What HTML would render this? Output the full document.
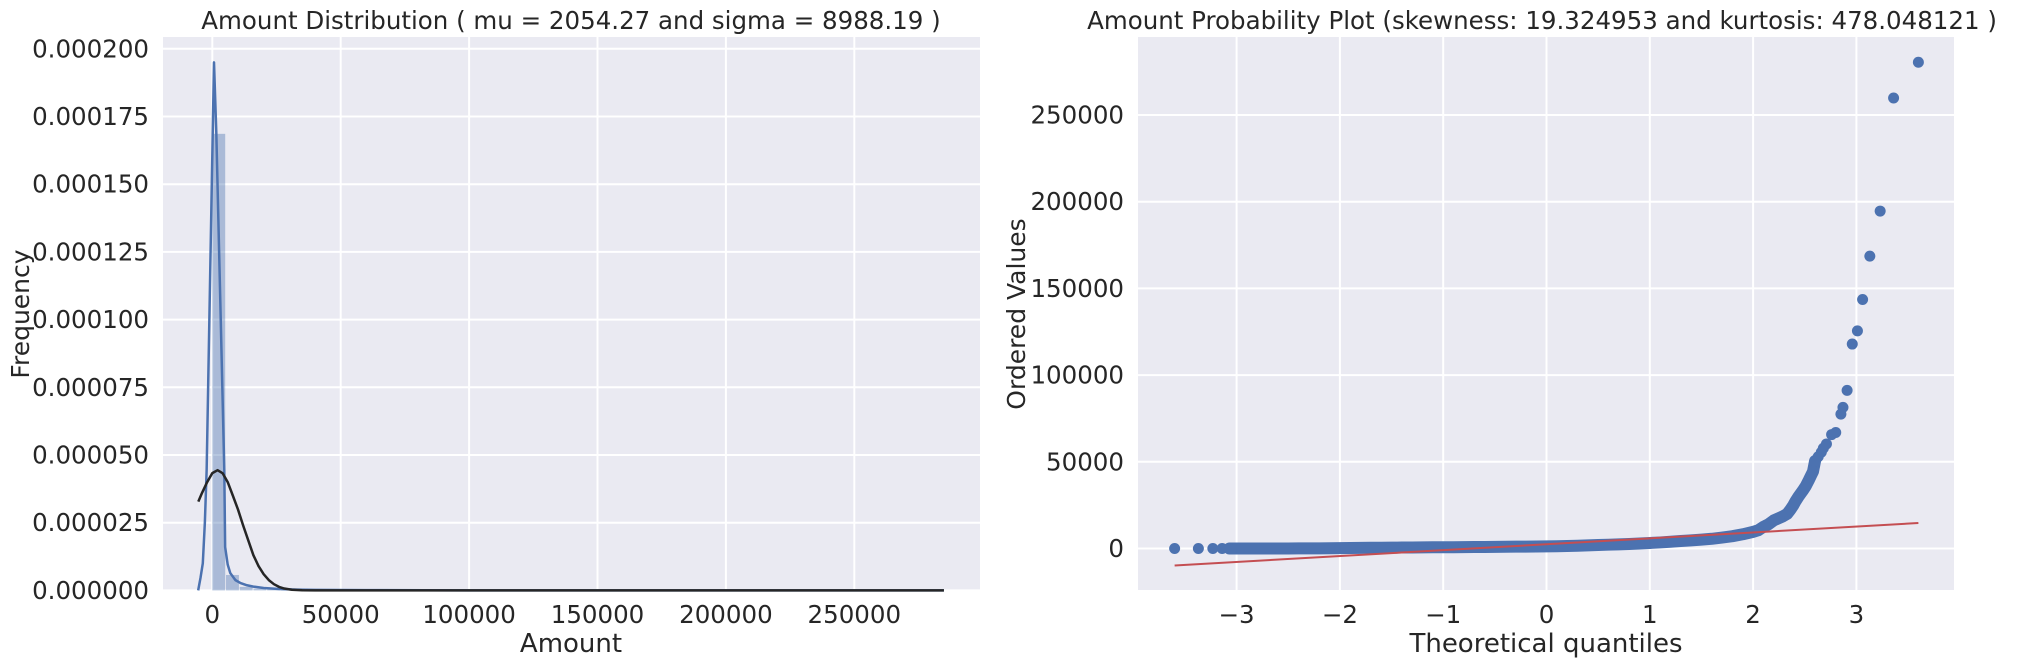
<!DOCTYPE html>
<html><head><meta charset="utf-8"><style>
html,body{margin:0;padding:0;background:#fff;}
svg text{font-family:"DejaVu Sans","Liberation Sans",sans-serif;fill:#262626;}
</style></head><body>
<svg id="fig" width="2021" height="666" viewBox="0 0 2021 666" xmlns="http://www.w3.org/2000/svg">
<g id="left"></g>
<g id="right"></g>
</svg>
<script>
// ---------- Left chart data ----------
const histBinStart = 0;
const histBinWidth = 5340;
const histDensity = [1.686e-4, 5.7e-6, 1.3e-6, 0.6e-6, 0.3e-6, 0.2e-6, 0.15e-6, 0.1e-6, 0.1e-6, 0.3e-6, 0.3e-6, 0.2e-6, 0.1e-6, 0.05e-6, 0.05e-6];
const kdeX = [-5500, -4600, -3700, -2900, -2200, 660, 1560, 4670, 5000, 6000, 7000, 9000, 11000, 13500, 16000, 20000, 26000, 33000, 40000, 60000, 100000, 284900];
const kdeY = [0, 4.6e-6, 1.0e-5, 2.5e-5, 4.45e-5, 1.95e-4, 1.69e-4, 4.45e-5, 1.6e-5, 9.5e-6, 6.4e-6, 3.8e-6, 2.7e-6, 1.9e-6, 1.4e-6, 0.9e-6, 0.5e-6, 0.3e-6, 0.2e-6, 0.1e-6, 0, 0];
const normX = [-5450, -4000, -2000, 0, 2054, 4000, 6000, 8000, 10000, 12000, 14000, 16000, 18000, 20000, 22000, 24000, 26000, 28000, 31000, 35000, 40000, 284900];
const normY = [3.28e-5, 3.6e-5, 4.0e-5, 4.33e-5, 4.44e-5, 4.33e-5, 4.0e-5, 3.5e-5, 2.99e-5, 2.4e-5, 1.85e-5, 1.3e-5, 9.0e-6, 6.0e-6, 3.8e-6, 2.3e-6, 1.3e-6, 0.7e-6, 0.25e-6, 0.05e-6, 0, 0];
const leftXTicks = [0, 50000, 100000, 150000, 200000, 250000];
const leftXTickLabels = ["0", "50000", "100000", "150000", "200000", "250000"];
const leftYTicks = [0, 0.000025, 0.00005, 0.000075, 0.0001, 0.000125, 0.00015, 0.000175, 0.0002];
const leftYTickLabels = ["0.000000", "0.000025", "0.000050", "0.000075", "0.000100", "0.000125", "0.000150", "0.000175", "0.000200"];

// ---------- Right chart data ----------
const qqX = [-3.6, -3.37, -3.23, -3.14, -3.07, -3.0, -2.9, -2.8, -2.7, -2.6, -2.5, -2.4, -2.3, -2.2, -2.1, -2.0, -1.9, -1.8, -1.7, -1.6, -1.5, -1.4, -1.3, -1.2, -1.1, -1.0, -0.9, -0.8, -0.7, -0.6, -0.5, -0.4, -0.3, -0.2, -0.1, 0, 0.1, 0.2, 0.3, 0.4, 0.5, 0.6, 0.7, 0.8, 0.9, 1.0, 1.1, 1.2, 1.3, 1.4, 1.5, 1.6, 1.7, 1.8, 1.9, 2.0, 2.05, 2.1, 2.15, 2.2, 2.25, 2.29, 2.33, 2.36, 2.39, 2.41, 2.44, 2.48, 2.51, 2.54, 2.56, 2.58, 2.60, 2.63, 2.66, 2.68, 2.71, 2.76, 2.80, 2.85, 2.87, 2.91, 2.96, 3.01, 3.06, 3.13, 3.23, 3.36, 3.6];
const qqY = [0, 0, 0, 0, 0, 0, 0, 0, 10, 20, 30, 50, 80, 100, 150, 250, 300, 350, 400, 450, 500, 550, 600, 650, 700, 700, 750, 800, 850, 900, 950, 1000, 1050, 1100, 1150, 1200, 1300, 1450, 1600, 1800, 2000, 2200, 2400, 2600, 2900, 3200, 3500, 3900, 4300, 4700, 5100, 5600, 6300, 7100, 8200, 9600, 10500, 12500, 14000, 16200, 17500, 18600, 20000, 22300, 25000, 27200, 30000, 33300, 36000, 39500, 42000, 44400, 50500, 52900, 55500, 57800, 60300, 65700, 66900, 77500, 81400, 91200, 117900, 125500, 143600, 168600, 194600, 259800, 280400];
const fitX = [-3.6, 3.6];
const fitY = [-9800, 14700];
const rightXTicks = [-3, -2, -1, 0, 1, 2, 3];
const rightXTickLabels = ["\u22123", "\u22122", "\u22121", "0", "1", "2", "3"];
const rightYTicks = [0, 50000, 100000, 150000, 200000, 250000];
const rightYTickLabels = ["0", "50000", "100000", "150000", "200000", "250000"];

const NS = "http://www.w3.org/2000/svg";
const FS = 24.5;
function mk(parent, tag, attrs, text) {
  const e = document.createElementNS(NS, tag);
  for (const k in attrs) e.setAttribute(k, attrs[k]);
  if (text !== undefined) e.textContent = text;
  parent.appendChild(e);
  return e;
}

// ---------- Left chart ----------
(function(){
  const g = document.getElementById('left');
  const L = 163, R = 980, T = 37, B = 590;
  const xs = v => 212.3 + v * (128.4 / 50000);
  const ys = v => 590.4 - v * (67.7 / 0.000025);
  const bg = mk(g, 'rect', {x:L, y:T, width:R-L, height:B-T, fill:'#eaeaf2'});
  
  
  leftYTicks.forEach((t, i) => {
    const y = ys(t);
    const gl = mk(g, 'line', {x1:L, x2:R, y1:y, y2:y, stroke:'#fff', 'stroke-width':2});
    
    
    const tl = mk(g, 'text', {x:149, y:y, 'text-anchor':'end', 'dominant-baseline':'central', 'font-size':FS}, leftYTickLabels[i]);
    
    
  });
  leftXTicks.forEach((t, i) => {
    const x = xs(t);
    const gl = mk(g, 'line', {x1:x, x2:x, y1:T, y2:B, stroke:'#fff', 'stroke-width':2});
    
    
    const tl = mk(g, 'text', {x:x, y:623, 'text-anchor':'middle', 'font-size':FS}, leftXTickLabels[i]);
    
    
  });
  histDensity.forEach((d, i) => {
    const x0 = xs(histBinStart + i * histBinWidth), x1 = xs(histBinStart + (i + 1) * histBinWidth);
    const y = ys(d);
    const r = mk(g, 'rect', {x:x0, y:y, width:Math.max(0, x1 - x0 - 0.8), height:Math.max(0, ys(0) - y), fill:'#4c72b0', 'fill-opacity':0.4});
    
    
  });
  const kp = mk(g, 'polyline', {points:kdeX.map((x, i) => xs(x) + ',' + ys(kdeY[i])).join(' '), fill:'none', stroke:'#4c72b0', 'stroke-width':2.5, 'stroke-linejoin':'round'});
  
  
  const np = mk(g, 'polyline', {points:normX.map((x, i) => xs(x) + ',' + ys(normY[i])).join(' '), fill:'none', stroke:'#262626', 'stroke-width':2.5, 'stroke-linejoin':'round'});
  
  
  const tt = mk(g, 'text', {x:571, y:29, 'text-anchor':'middle', 'font-size':FS}, 'Amount Distribution ( mu = 2054.27 and sigma = 8988.19 )');
  
  
  const xl = mk(g, 'text', {x:571, y:652, 'text-anchor':'middle', 'font-size':26}, 'Amount');
  
  
  const yl = mk(g, 'text', {x:0, y:0, 'text-anchor':'middle', 'font-size':25, transform:'translate(29,314) rotate(-90)'}, 'Frequency');
  
  
})();

// ---------- Right chart ----------
(function(){
  const g = document.getElementById('right');
  const L = 1138, R = 1954, T = 37, B = 590;
  const xs = v => 1546.5 + v * 103.3;
  const ys = v => 548.5 - v * (86.7 / 50000);
  const bg = mk(g, 'rect', {x:L, y:T, width:R-L, height:B-T, fill:'#eaeaf2'});
  
  
  rightYTicks.forEach((t, i) => {
    const y = ys(t);
    const gl = mk(g, 'line', {x1:L, x2:R, y1:y, y2:y, stroke:'#fff', 'stroke-width':2});
    
    
    const tl = mk(g, 'text', {x:1124, y:y, 'text-anchor':'end', 'dominant-baseline':'central', 'font-size':FS}, rightYTickLabels[i]);
    
    
  });
  rightXTicks.forEach((t, i) => {
    const x = xs(t);
    const gl = mk(g, 'line', {x1:x, x2:x, y1:T, y2:B, stroke:'#fff', 'stroke-width':2});
    
    
    const tl = mk(g, 'text', {x:x, y:623, 'text-anchor':'middle', 'font-size':FS}, rightXTickLabels[i]);
    
    
  });
  const dense = [];
  qqX.forEach((x, i) => { if (x >= -3.07 && x <= 2.6) dense.push(xs(x) + ',' + ys(qqY[i])); });
  const band = mk(g, 'polyline', {points:dense.join(' '), fill:'none', stroke:'#4c72b0', 'stroke-width':12, 'stroke-linecap':'round', 'stroke-linejoin':'round'});
  
  
  qqX.forEach((x, i) => {
    const c = mk(g, 'ellipse', {cx:xs(x), cy:ys(qqY[i]), rx:5.5, ry:5.5, fill:'#4c72b0'});
    
    
  });
  const fl = mk(g, 'line', {x1:xs(fitX[0]), y1:ys(fitY[0]), x2:xs(fitX[1]), y2:ys(fitY[1]), stroke:'#c44e52', 'stroke-width':2});
  
  
  const tt = mk(g, 'text', {x:1542, y:29, 'text-anchor':'middle', 'font-size':FS}, 'Amount Probability Plot (skewness: 19.324953 and kurtosis: 478.048121 )');
  
  
  const xl = mk(g, 'text', {x:1546, y:652, 'text-anchor':'middle', 'font-size':26}, 'Theoretical quantiles');
  
  
  const yl = mk(g, 'text', {x:0, y:0, 'text-anchor':'middle', 'font-size':25, transform:'translate(1025,314) rotate(-90)'}, 'Ordered Values');
  
  
})();
</script>
</body></html>
